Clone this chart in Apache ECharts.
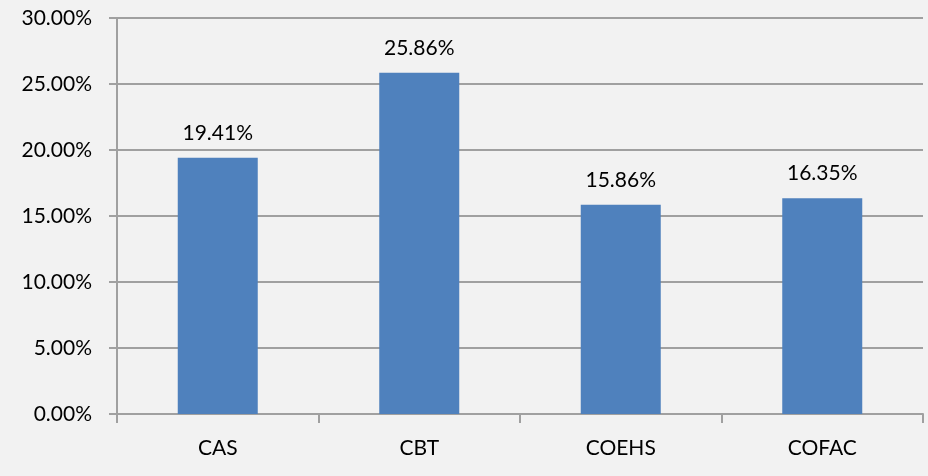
<!DOCTYPE html>
<html lang="en">
<head>
    <meta charset="UTF-8">
    <title>Chart</title>
    <script src="https://cdn.jsdelivr.net/npm/echarts@6/dist/echarts.min.js"></script>
    <style>
        html, body { margin: 0; padding: 0; background: #f2f2f2; }
    </style>
</head>
<body>
<div id="main" style="width: 928px;height:476px;"></div>
<script type="text/javascript">
    // data
    var colleges = ['CAS', 'CBT', 'COEHS', 'COFAC'];
    var shares = [19.41, 25.86, 15.86, 16.35];
    var yMin = 0, yMax = 30, yStep = 5;

    var font = 'Lato, "Open Sans", sans-serif';
    var lineColor = '#a0a0a0';

    var myChart = echarts.init(document.getElementById('main'));
    var option = {
        backgroundColor: '#f2f2f2',
        animation: false,
        grid: { left: 117, right: 5, top: 18, bottom: 62 },
        xAxis: {
            type: 'category',
            data: colleges,
            axisLine: { lineStyle: { color: lineColor, width: 2 } },
            axisTick: { show: true, length: 9, lineStyle: { color: lineColor, width: 2 } },
            axisLabel: { color: '#000', fontFamily: font, fontSize: 21, margin: 24 }
        },
        yAxis: {
            type: 'value',
            min: yMin,
            max: yMax,
            interval: yStep,
            axisLine: { show: true, lineStyle: { color: lineColor, width: 2 } },
            axisTick: { show: true, length: 8, lineStyle: { color: lineColor, width: 2 } },
            splitLine: { lineStyle: { color: lineColor, width: 2 } },
            axisLabel: {
                color: '#000', fontFamily: font, fontSize: 21, margin: 25,
                formatter: function (v) { return v.toFixed(2) + '%'; }
            }
        },
        series: [{
            type: 'bar',
            data: shares,
            barWidth: 80,
            itemStyle: { color: '#4f81bd' },
            label: {
                show: true,
                position: 'top',
                distance: 14,
                color: '#000',
                fontFamily: font,
                fontSize: 21,
                formatter: function (p) { return p.value.toFixed(2) + '%'; }
            }
        }]
    };
    myChart.setOption(option);
</script>
</body>
</html>
